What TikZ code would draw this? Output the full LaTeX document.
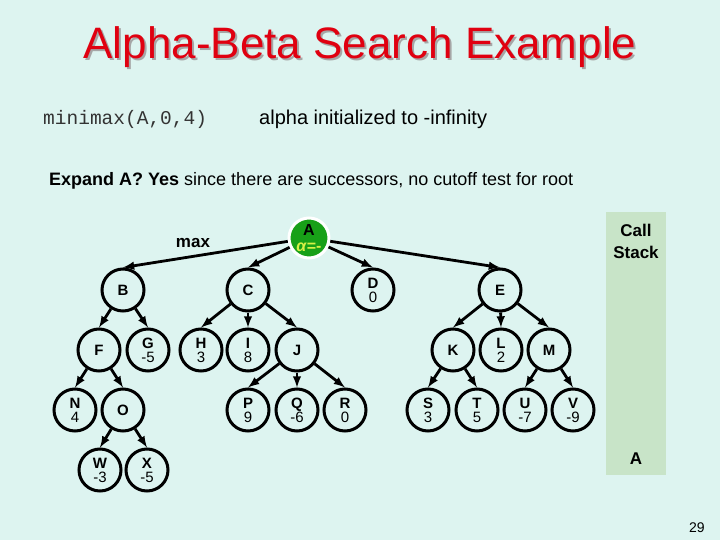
\documentclass[tikz,border=0pt]{standalone}
\usepackage{fontspec}
\setmainfont{Liberation Sans}
\setmonofont{Liberation Mono}
\usetikzlibrary{arrows, positioning}
\definecolor{bgcyan}{RGB}{221,244,240}
\definecolor{stackgreen}{RGB}{200,228,200}
\definecolor{titlered}{RGB}{224,0,16}
\definecolor{rootgreen}{RGB}{24,160,24}
\definecolor{alphayellow}{RGB}{215,240,70}

\tikzset{
  gnode/.style={circle, draw, line width=3pt, minimum size=42pt, inner sep=0pt,
                align=center, font=\fontsize{15}{14}\selectfont},
  gedge/.style={->, >=latex, line width=2.8pt},
  plain/.style={inner sep=0pt, anchor=west},
}

\begin{document}
\begin{tikzpicture}[x=1pt, y=-1pt]
\fill[bgcyan] (0,0) rectangle (720,540);
\useasboundingbox (0,0) rectangle (720,540);
%
% title and notes
\node[text=black!35, font=\fontsize{44}{44}\selectfont] (shadow) at (362,49) {Alpha-Beta Search Example};
\node[text=titlered, font=\fontsize{44}{44}\selectfont] (title) at (360,47) {Alpha-Beta Search Example};
\node[plain, text=black!80, font=\ttfamily\fontsize{19.5}{20}\selectfont] (call) at (43,119) {minimax(A,0,4)};
\node[plain, font=\fontsize{20}{20}\selectfont] (note) at (259,119) {alpha initialized to -infinity};
\node[plain, font=\fontsize{18}{18}\selectfont] (expand) at (49,181) {\textbf{Expand A? Yes} since there are successors, no cutoff test for root};
%
% call stack
\fill[stackgreen] (606,212) rectangle (666,475);
\node[align=center, font=\bfseries\fontsize{17}{22}\selectfont] (stack) at (636,241) {Call\\Stack};
\node[font=\bfseries\fontsize{17}{17}\selectfont] (sA) at (636,459) {A};
\node[plain, font=\fontsize{14}{14}\selectfont] (page) at (689,528) {29};
%
% tree
\node[font=\bfseries\fontsize{17}{17}\selectfont] (max) at (193,243) {max};
\node[circle, draw=white, fill=rootgreen, line width=3pt, minimum size=40pt, inner sep=0pt,
      align=center, font=\bfseries\fontsize{16}{16}\selectfont] (A) at (309,238)
      {A\\\textcolor{alphayellow}{\textit{α}=-}};
\node[gnode] (B) at (123,290) {\textbf{B}};
\node[gnode] (C) at (248,290) {\textbf{C}};
\node[gnode] (D) at (373,290) {\textbf{D}\\0};
\node[gnode] (E) at (500,290) {\textbf{E}};
\node[gnode] (F) at (99,350) {\textbf{F}};
\node[gnode] (G) at (148,350) {\textbf{G}\\-5};
\node[gnode] (H) at (201,350) {\textbf{H}\\3};
\node[gnode] (I) at (248,350) {\textbf{I}\\8};
\node[gnode] (J) at (297,350) {\textbf{J}};
\node[gnode] (K) at (453,350) {\textbf{K}};
\node[gnode] (L) at (501,350) {\textbf{L}\\2};
\node[gnode] (M) at (549,350) {\textbf{M}};
\node[gnode] (N) at (75,410) {\textbf{N}\\4};
\node[gnode] (O) at (123,410) {\textbf{O}};
\node[gnode] (P) at (248,410) {\textbf{P}\\9};
\node[gnode] (Q) at (297,410) {\textbf{Q}\\-6};
\node[gnode] (R) at (345,410) {\textbf{R}\\0};
\node[gnode] (S) at (428,410) {\textbf{S}\\3};
\node[gnode] (T) at (477,410) {\textbf{T}\\5};
\node[gnode] (U) at (525,410) {\textbf{U}\\-7};
\node[gnode] (V) at (573,410) {\textbf{V}\\-9};
\node[gnode] (W) at (100,470) {\textbf{W}\\-3};
\node[gnode] (X) at (147,470) {\textbf{X}\\-5};
%
\foreach \p/\c in {A/B, A/C, A/D, A/E, B/F, B/G, F/N, F/O, O/W, O/X,
                   C/H, C/I, C/J, J/P, J/Q, J/R, E/K, E/L, E/M, K/S, K/T, M/U, M/V}
  \draw[gedge] (\p) -- (\c.north);
\end{tikzpicture}
\end{document}
